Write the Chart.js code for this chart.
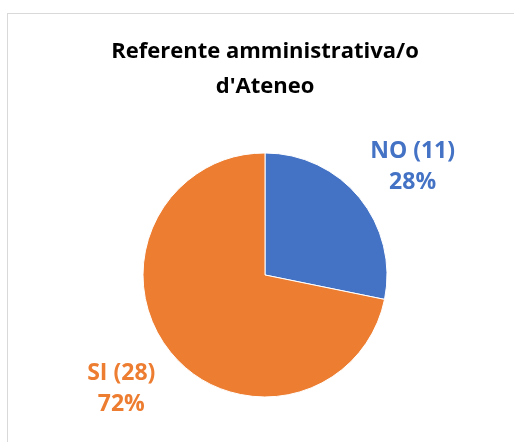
<!DOCTYPE html>
<html>
<head>
<meta charset="utf-8">
<script src="https://cdn.jsdelivr.net/npm/chart.js@4.4.0/dist/chart.umd.min.js"></script>
<style>
  html, body { margin: 0; padding: 0; background: #fff; }
  #wrap { position: relative; width: 514px; height: 442px; }
  #frame { position: absolute; left: 7px; top: 13px; width: 520px; height: 440px; border: 1px solid #d9d9d9; box-sizing: border-box; }
  canvas { position: absolute; left: 0; top: 0; }
</style>
</head>
<body>
<div id="wrap">
  <div id="frame"></div>
  <canvas id="pieChart" width="514" height="442"></canvas>
</div>
<script>
const chartTitle = ['Referente amministrativa/o', "d'Ateneo"];
const categories = ['NO', 'SI'];
const counts = [11, 28];
const sliceColors = ['#4472C4', '#ED7D31'];

const labelFont = 'bold 23px "Open Sans", sans-serif';
// small nudges (degrees) so the labels sit where Excel put them
const labelNudge = [3, 1];

// draws "NO (11)" / "28%" outside each slice
const outsideLabels = {
    id: 'outsideLabels',
    afterDatasetsDraw(chart) {
        const ctx = chart.ctx;
        const meta = chart.getDatasetMeta(0);
        const total = counts.reduce((a, b) => a + b, 0);
        ctx.save();
        ctx.font = labelFont;
        ctx.textAlign = 'center';
        ctx.textBaseline = 'middle';
        meta.data.forEach((arc, i) => {
            const mid = (arc.startAngle + arc.endAngle) / 2 + labelNudge[i] * Math.PI / 180;
            const r = arc.outerRadius * 1.5;
            const x = arc.x + Math.cos(mid) * r;
            const y = arc.y + Math.sin(mid) * r;
            const pct = Math.round(counts[i] / total * 100) + '%';
            ctx.fillStyle = sliceColors[i];
            ctx.fillText(categories[i] + ' (' + counts[i] + ')', x, y - 15);
            ctx.fillText(pct, x, y + 16);
        });
        ctx.restore();
    }
};

new Chart(document.getElementById('pieChart').getContext('2d'), {
    type: 'pie',
    data: {
        labels: categories,
        datasets: [{
            data: counts,
            backgroundColor: sliceColors,
            borderColor: '#ffffff',
            borderWidth: 1,
            radius: 122
        }]
    },
    options: {
        responsive: false,
        animation: false,
        layout: {
            padding: { top: 0, left: 16, right: 0, bottom: 45 }
        },
        plugins: {
            legend: { display: false },
            tooltip: { enabled: false },
            title: {
                display: true,
                text: chartTitle,
                color: '#000000',
                font: { family: '"Open Sans", sans-serif', size: 22, weight: 'bold', lineHeight: 1.59 },
                padding: { top: 34, bottom: 49 }
            }
        }
    },
    plugins: [outsideLabels]
});
</script>
</body>
</html>
